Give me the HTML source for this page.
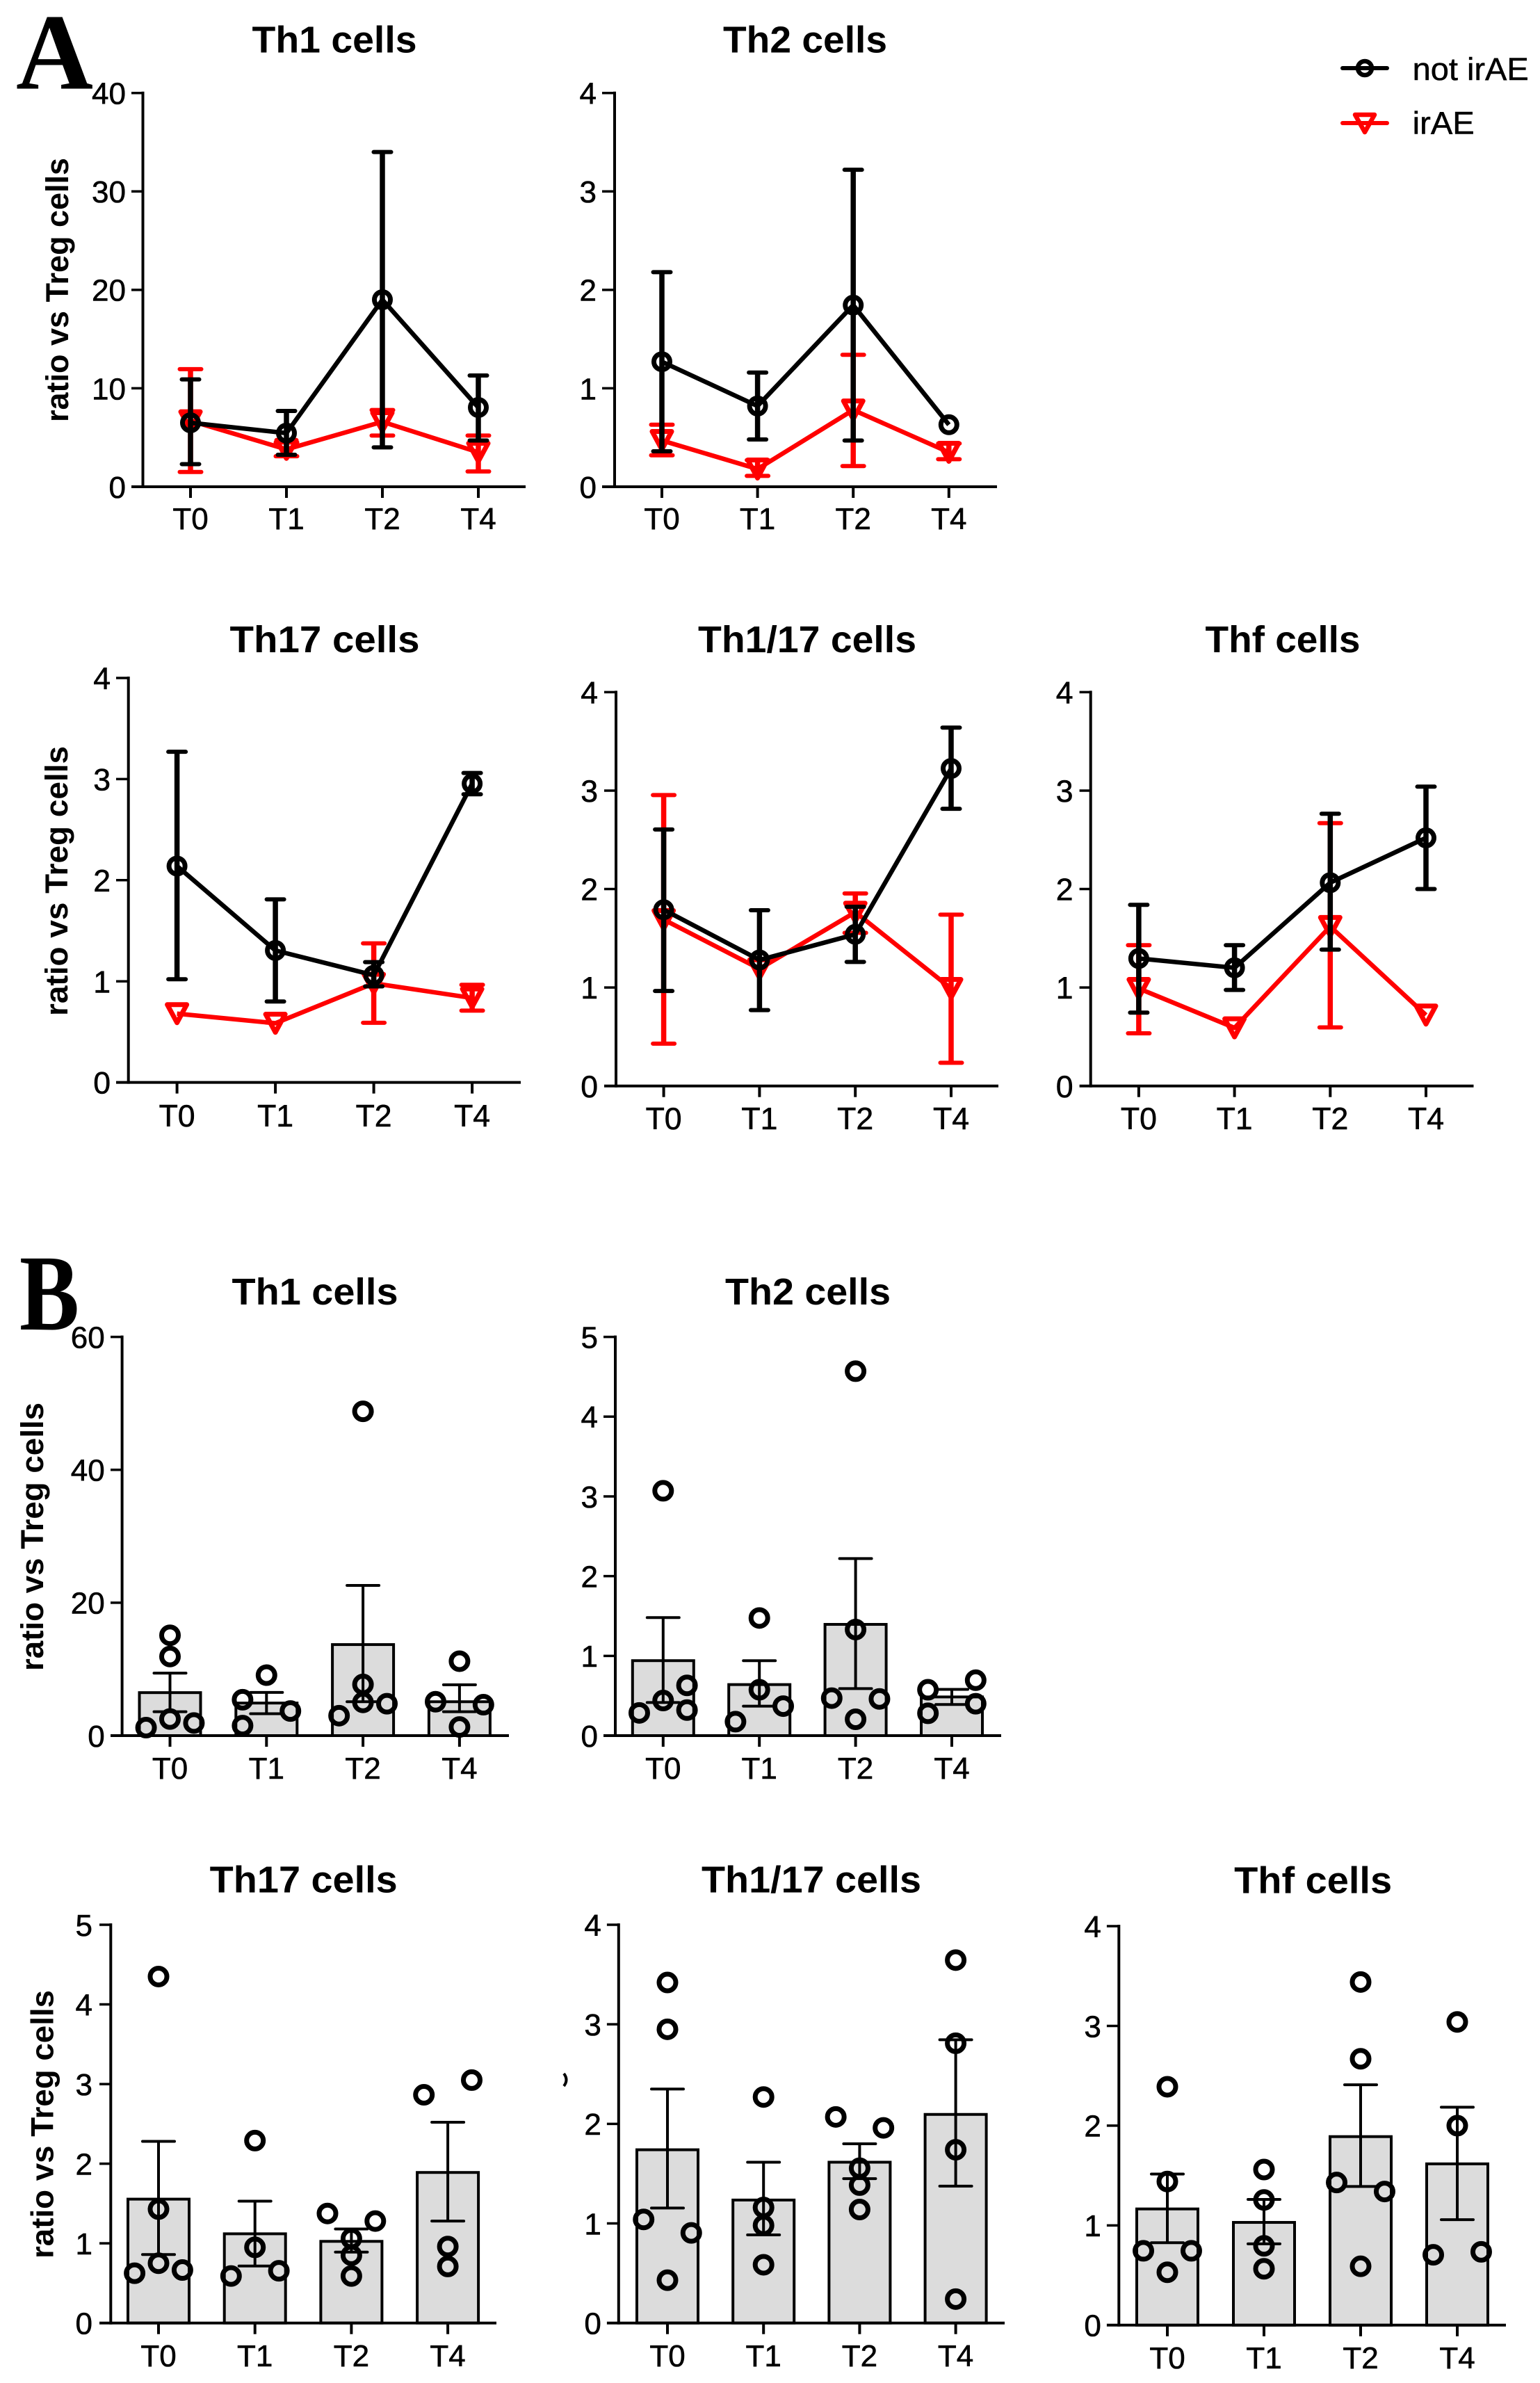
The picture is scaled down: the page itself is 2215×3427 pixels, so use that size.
<!DOCTYPE html>
<html lang="en">
<head>
<meta charset="utf-8">
<title>Ratio vs Treg cells</title>
<style>
  html, body { margin: 0; padding: 0; background: #fff; }
  svg { display: block; }
  text { font-family: "Liberation Sans", sans-serif; fill: #000; }
  .title { font-size: 54px; font-weight: bold; text-anchor: middle; }
  .ylab { font-size: 45px; font-weight: bold; text-anchor: middle; }
  .letter { font-family: "Liberation Serif", serif; font-weight: bold; font-size: 156px; }
  .legend-text { font-size: 45px; stroke: #000; stroke-width: 0.5px; }
  .tick-text { stroke: #000; stroke-width: 0.6px; }
</style>
</head>
<body>
<svg id="figure" xmlns="http://www.w3.org/2000/svg" width="2215" height="3427" viewBox="0 0 2215 3427">
  <rect x="0" y="0" width="2215" height="3427" fill="#fff"/>

  <text class="letter" x="23" y="127.5" textLength="111" lengthAdjust="spacingAndGlyphs">A</text>
  <text class="letter" x="28" y="1912" textLength="86" lengthAdjust="spacingAndGlyphs">B</text>

  <g id="a1">
    <text class="title" x="481" y="75.5" textLength="237" lengthAdjust="spacingAndGlyphs">Th1 cells</text>
    <text class="ylab" transform="translate(98,417) rotate(-90)" textLength="380" lengthAdjust="spacingAndGlyphs">ratio vs Treg cells</text>
  </g>
  <g id="a2">
    <text class="title" x="1158" y="75.5" textLength="236" lengthAdjust="spacingAndGlyphs">Th2 cells</text>
  </g>
  <g id="a3">
    <text class="title" x="467" y="938" textLength="273" lengthAdjust="spacingAndGlyphs">Th17 cells</text>
    <text class="ylab" transform="translate(97,1267) rotate(-90)" textLength="388" lengthAdjust="spacingAndGlyphs">ratio vs Treg cells</text>
  </g>
  <g id="a4">
    <text class="title" x="1161" y="938" textLength="314" lengthAdjust="spacingAndGlyphs">Th1/17 cells</text>
  </g>
  <g id="a5">
    <text class="title" x="1845" y="938" textLength="223" lengthAdjust="spacingAndGlyphs">Thf cells</text>
  </g>

  <g id="b1">
    <text class="title" x="453" y="1876" textLength="239" lengthAdjust="spacingAndGlyphs">Th1 cells</text>
    <text class="ylab" transform="translate(62,2210) rotate(-90)" textLength="386" lengthAdjust="spacingAndGlyphs">ratio vs Treg cells</text>
  </g>
  <g id="b2">
    <text class="title" x="1162" y="1876" textLength="238" lengthAdjust="spacingAndGlyphs">Th2 cells</text>
  </g>
  <g id="b3">
    <text class="title" x="436.7" y="2721.5" textLength="270" lengthAdjust="spacingAndGlyphs">Th17 cells</text>
    <text class="ylab" transform="translate(76.5,3055) rotate(-90)" textLength="386" lengthAdjust="spacingAndGlyphs">ratio vs Treg cells</text>
  </g>
  <g id="b4">
    <text class="title" x="1167" y="2721.5" textLength="316" lengthAdjust="spacingAndGlyphs">Th1/17 cells</text>
    <path d="M811 2982 Q818 2991 811 3000" fill="none" stroke="#000" stroke-width="4"/>
  </g>
  <g id="b5">
    <text class="title" x="1888.6" y="2722.5" textLength="227" lengthAdjust="spacingAndGlyphs">Thf cells</text>
  </g>

  <g>
    <g>
      <line x1="1931" y1="98" x2="1995" y2="98" stroke="#000" stroke-width="6" stroke-linecap="round"/>
      <circle cx="1963" cy="98" r="10" fill="none" stroke="#000" stroke-width="6.5"/>
      <text class="legend-text" x="2031.7" y="114.8" textLength="167" lengthAdjust="spacingAndGlyphs">not irAE</text>
    </g>
    <g>
      <line x1="1931" y1="177" x2="1995" y2="177" stroke="#f00" stroke-width="6" stroke-linecap="round"/>
      <polygon points="1949,165 1977,165 1963,190" fill="none" stroke="#f00" stroke-width="6.5" stroke-linejoin="round"/>
      <text class="legend-text" x="2031.7" y="192.3" textLength="89" lengthAdjust="spacingAndGlyphs">irAE</text>
    </g>
  </g>
</svg>

<script>
// ---------- shared categories ----------
const categories = ['T0', 'T1', 'T2', 'T4'];

// ---------- panel A: y tick labels ----------
const a1Ticks = [0, 10, 20, 30, 40];
const a2Ticks = [0, 1, 2, 3, 4];
const a3Ticks = [0, 1, 2, 3, 4];
const a4Ticks = [0, 1, 2, 3, 4];
const a5Ticks = [0, 1, 2, 3, 4];

// ---------- panel A: Th1 ----------
const a1NotMean = [6.5, 5.45, 19, 8.05];
const a1NotLow = [2.3, 3.25, 4.0, 4.7];
const a1NotHigh = [10.9, 7.7, 34, 11.3];
const a1IrMean = [6.7, 3.8, 6.6, 3.5];
const a1IrLow = [1.5, 3.1, 5.2, 1.55];
const a1IrHigh = [11.95, 4.5, 7.8, 5.2];

// ---------- panel A: Th2 ----------
const a2NotMean = [1.27, 0.82, 1.845, 0.63];
const a2NotLow = [0.36, 0.48, 0.47, 0.63];
const a2NotHigh = [2.18, 1.16, 3.22, 0.63];
const a2IrMean = [0.47, 0.18, 0.78, 0.35];
const a2IrLow = [0.32, 0.11, 0.21, 0.28];
const a2IrHigh = [0.63, 0.27, 1.34, 0.44];

// ---------- panel A: Th17 ----------
const a3NotMean = [2.14, 1.305, 1.06, 2.955];
const a3NotLow = [1.02, 0.80, 0.95, 2.85];
const a3NotHigh = [3.27, 1.81, 1.19, 3.06];
const a3IrMean = [0.68, 0.585, 0.98, 0.835];
const a3IrLow = [0.68, 0.585, 0.59, 0.71];
const a3IrHigh = [0.68, 0.585, 1.375, 0.965];

// ---------- panel A: Th1/17 ----------
const a4NotMean = [1.79, 1.28, 1.54, 3.225];
const a4NotLow = [0.965, 0.77, 1.26, 2.815];
const a4NotHigh = [2.605, 1.785, 1.82, 3.64];
const a4IrMean = [1.69, 1.19, 1.765, 0.99];
const a4IrLow = [0.43, 1.19, 1.555, 0.235];
const a4IrHigh = [2.955, 1.19, 1.955, 1.74];

// ---------- panel A: Thf ----------
const a5NotMean = [1.295, 1.2, 2.065, 2.52];
const a5NotLow = [0.745, 0.975, 1.385, 2.0];
const a5NotHigh = [1.84, 1.43, 2.765, 3.04];
const a5IrMean = [0.99, 0.59, 1.62, 0.72];
const a5IrLow = [0.535, 0.59, 0.595, 0.72];
const a5IrHigh = [1.43, 0.59, 2.67, 0.72];

// ---------- panel B: y tick labels ----------
const b1Ticks = [0, 20, 40, 60];
const b2Ticks = [0, 1, 2, 3, 4, 5];
const b3Ticks = [0, 1, 2, 3, 4, 5];
const b4Ticks = [0, 1, 2, 3, 4];
const b5Ticks = [0, 1, 2, 3, 4];

// ---------- panel B: Th1 ----------
const b1Bars = [6.47, 4.9, 13.7, 5.1];
const b1Low = [3.6, 3.3, 5.1, 3.6];
const b1High = [9.4, 6.5, 22.6, 7.65];
const b1Points = [[15.1, 11.9, 2.5, 1.2, 1.9], [9.1, 5.4, 1.5, 3.7], [48.8, 7.7, 5.0, 3.0, 4.8], [11.2, 5.1, 4.65, 1.3]];
const b1Slots = [[0, 0, 0, -1, 1], [0, -1, -1, 1], [0, 0, 0, -1, 1], [0, -1, 1, 0]];

// ---------- panel B: Th2 ----------
const b2Bars = [0.94, 0.64, 1.395, 0.485];
const b2Low = [0.415, 0.37, 0.59, 0.39];
const b2High = [1.48, 0.94, 2.22, 0.58];
const b2Points = [[3.07, 0.44, 0.285, 0.63, 0.32], [1.475, 0.575, 0.175, 0.37], [4.57, 1.33, 0.47, 0.46, 0.205], [0.575, 0.28, 0.695, 0.40]];
const b2Slots = [[0, 0, -1, 1, 1], [0, 0, -1, 1], [0, 0, -1, 1, 0], [-1, -1, 1, 1]];

// ---------- panel B: Th17 ----------
const b3Bars = [1.555, 1.12, 1.025, 1.89];
const b3Low = [0.86, 0.715, 0.89, 1.28];
const b3High = [2.28, 1.53, 1.18, 2.52];
const b3Points = [[4.35, 1.43, 0.75, 0.625, 0.665], [2.29, 0.95, 0.59, 0.655], [1.06, 0.85, 0.59, 1.375, 1.28], [2.865, 3.05, 0.96, 0.71]];
const b3Slots = [[0, 0, 0, -1, 1], [0, 0, -1, 1], [0, 0, 0, -1, 1], [-1, 1, 0, 0]];

// ---------- panel B: Th1/17 ----------
const b4Bars = [1.74, 1.235, 1.615, 2.095];
const b4Low = [1.155, 0.885, 1.45, 1.375];
const b4High = [2.35, 1.615, 1.80, 2.845];
const b4Points = [[3.42, 2.95, 0.43, 1.04, 0.905], [2.27, 1.16, 0.98, 0.585], [2.07, 1.96, 1.555, 1.385, 1.14], [3.645, 2.81, 1.74, 0.24]];
const b4Slots = [[0, 0, 0, -1, 1], [0, 0, 0, 0], [-1, 1, 0, 0, 0], [0, 0, 0, 0]];

// ---------- panel B: Thf ----------
const b5Bars = [1.165, 1.03, 1.89, 1.617];
const b5Low = [0.826, 0.815, 1.39, 1.057];
const b5High = [1.515, 1.26, 2.41, 2.185];
const b5Points = [[2.39, 1.44, 0.53, 0.745, 0.745], [1.56, 1.255, 0.795, 0.565], [3.44, 2.67, 0.59, 1.43, 1.34], [3.04, 2.0, 0.705, 0.735]];
const b5Slots = [[0, 0, 0, -1, 1], [0, 0, 0, 0], [0, 0, 0, -1, 1], [0, 0, -1, 1]];

// ---------- helpers ----------
const SVGNS = 'http://www.w3.org/2000/svg';
const RED = '#ff0000';
const BLACK = '#000000';

function shape(parent, tag, attrs) {
  const el = document.createElementNS(SVGNS, tag);
  Object.keys(attrs).forEach(function (k) { el.setAttribute(k, attrs[k]); });
  parent.appendChild(el);
  return el;
}

function makeScales(frame, ticks) {
  const yMax = ticks[ticks.length - 1];
  return {
    x: function (i) { return frame.first + i * frame.step; },
    y: function (v) { return frame.bottom - (v / yMax) * (frame.bottom - frame.top); }
  };
}

function drawAxes(g, frame, ticks, scales) {
  const yAxis = shape(g, 'line', { x1: frame.axisX, y1: frame.top - 2, x2: frame.axisX, y2: frame.bottom + 2, stroke: BLACK, 'stroke-width': 4 });
  
  
  const xAxis = shape(g, 'line', { x1: frame.left, y1: frame.bottom, x2: frame.right, y2: frame.bottom, stroke: BLACK, 'stroke-width': 4 });
  
  

  ticks.forEach(function (t) {
    const yy = scales.y(t);
    if (t !== 0) {
      const mark = shape(g, 'line', { x1: frame.left, y1: yy, x2: frame.axisX, y2: yy, stroke: BLACK, 'stroke-width': 3.5 });
      
      
    }
    const label = shape(g, 'text', { class: 'tick-text', x: frame.tickRight, y: yy + frame.font * 0.36, 'text-anchor': 'end', 'font-size': frame.font });
    label.textContent = String(t);
    
    
  });

  categories.forEach(function (c, i) {
    const xx = scales.x(i);
    const mark = shape(g, 'line', { x1: xx, y1: frame.bottom, x2: xx, y2: frame.bottom + 16, stroke: BLACK, 'stroke-width': 4 });
    
    
    const label = shape(g, 'text', { class: 'tick-text', x: xx, y: frame.labelY, 'text-anchor': 'middle', 'font-size': frame.font });
    label.textContent = c;
    
    
  });
}

function drawSeries(g, scales, name, color, capHalf, means, lows, highs, marker) {
  means.forEach(function (m, i) {
    if (lows[i] === highs[i]) { return; }
    const xx = scales.x(i);
    const yLow = scales.y(lows[i]);
    const yHigh = scales.y(highs[i]);
    const stem = shape(g, 'line', { x1: xx, y1: yLow, x2: xx, y2: yHigh, stroke: color, 'stroke-width': 7.5 });
    
    
    const capA = shape(g, 'line', { x1: xx - capHalf, y1: yLow, x2: xx + capHalf, y2: yLow, stroke: color, 'stroke-width': 6, 'stroke-linecap': 'round' });
    
    
    const capB = shape(g, 'line', { x1: xx - capHalf, y1: yHigh, x2: xx + capHalf, y2: yHigh, stroke: color, 'stroke-width': 6, 'stroke-linecap': 'round' });
    
    
  });

  const coords = means.map(function (m, i) { return scales.x(i) + ',' + scales.y(m); }).join(' ');
  const line = shape(g, 'polyline', { points: coords, fill: 'none', stroke: color, 'stroke-width': 6.5, 'stroke-linejoin': 'round' });
  
  

  means.forEach(function (m, i) {
    const xx = scales.x(i);
    const yy = scales.y(m);
    let mark;
    if (marker === 'circle') {
      mark = shape(g, 'circle', { cx: xx, cy: yy, r: 11.5, fill: 'none', stroke: color, 'stroke-width': 7 });
    } else {
      mark = shape(g, 'polygon', {
        points: (xx - 14) + ',' + (yy - 13) + ' ' + (xx + 14) + ',' + (yy - 13) + ' ' + xx + ',' + (yy + 13),
        fill: 'none', stroke: color, 'stroke-width': 7, 'stroke-linejoin': 'round'
      });
    }
    
    
  });
}

function drawLinePanel(id, frame, ticks, notMean, notLow, notHigh, irMean, irLow, irHigh) {
  const g = document.getElementById(id);
  const scales = makeScales(frame, ticks);
  drawSeries(g, scales, 'irae', RED, 15.5, irMean, irLow, irHigh, 'triangle');
  drawSeries(g, scales, 'not-irae', BLACK, 12.5, notMean, notLow, notHigh, 'circle');
  drawAxes(g, frame, ticks, scales);
}

function drawBarPanel(id, frame, ticks, bars, lows, highs, points, slots) {
  const g = document.getElementById(id);
  const scales = makeScales(frame, ticks);
  bars.forEach(function (b, i) {
    const xx = scales.x(i);
    const yy = scales.y(b);
    const bar = shape(g, 'rect', { x: xx - 44, y: yy, width: 88, height: frame.bottom - yy, fill: '#dcdcdc', stroke: BLACK, 'stroke-width': 4 });
    
    
  });
  drawAxes(g, frame, ticks, scales);
  bars.forEach(function (b, i) {
    const xx = scales.x(i);
    const yLow = scales.y(lows[i]);
    const yHigh = scales.y(highs[i]);
    const stem = shape(g, 'line', { x1: xx, y1: yLow, x2: xx, y2: yHigh, stroke: BLACK, 'stroke-width': 4 });
    
    
    const capA = shape(g, 'line', { x1: xx - 23, y1: yLow, x2: xx + 23, y2: yLow, stroke: BLACK, 'stroke-width': 4, 'stroke-linecap': 'round' });
    
    
    const capB = shape(g, 'line', { x1: xx - 23, y1: yHigh, x2: xx + 23, y2: yHigh, stroke: BLACK, 'stroke-width': 4, 'stroke-linecap': 'round' });
    
    
    points[i].forEach(function (p, j) {
      const dot = shape(g, 'circle', { cx: xx + slots[i][j] * 0.248 * frame.step, cy: scales.y(p), r: 12, fill: 'none', stroke: BLACK, 'stroke-width': 7 });
      
      
    });
  });
}

// ---------- axis frames (layout only) ----------
const frameA1 = { axisX: 205.5, top: 133.7, bottom: 700, first: 274, step: 138, left: 189, right: 756, tickRight: 181, labelY: 761, font: 44 };
const frameA2 = { axisX: 884, top: 133.7, bottom: 700, first: 952, step: 137.6, left: 866, right: 1434, tickRight: 858, labelY: 761, font: 44 };
const frameA3 = { axisX: 184.7, top: 975, bottom: 1556.6, first: 254.6, step: 141.5, left: 167, right: 749, tickRight: 159, labelY: 1620, font: 44.6 };
const frameA4 = { axisX: 886, top: 995.4, bottom: 1561.7, first: 954.6, step: 137.8, left: 869, right: 1436, tickRight: 860, labelY: 1624, font: 44.6 };
const frameA5 = { axisX: 1568.7, top: 995.4, bottom: 1561.7, first: 1637.9, step: 137.7, left: 1552.6, right: 2119.5, tickRight: 1543.6, labelY: 1624, font: 44.6 };
const frameB1 = { axisX: 175.6, top: 1922.6, bottom: 2496, first: 244.5, step: 138.8, left: 159, right: 732, tickRight: 150.7, labelY: 2558, font: 44 };
const frameB2 = { axisX: 885, top: 1922.6, bottom: 2496, first: 953.8, step: 138.4, left: 868, right: 1440, tickRight: 860, labelY: 2558, font: 44 };
const frameB3 = { axisX: 159.3, top: 2768, bottom: 3340.7, first: 228, step: 138.7, left: 143, right: 714, tickRight: 133, labelY: 3403, font: 44 };
const frameB4 = { axisX: 889.8, top: 2768, bottom: 3340.7, first: 960, step: 138.2, left: 872.9, right: 1445, tickRight: 864.8, labelY: 3403, font: 44 };
const frameB5 = { axisX: 1609.3, top: 2770, bottom: 3343.8, first: 1679, step: 139, left: 1591.9, right: 2166, tickRight: 1583.8, labelY: 3406, font: 44 };

// ---------- draw ----------
drawLinePanel('a1', frameA1, a1Ticks, a1NotMean, a1NotLow, a1NotHigh, a1IrMean, a1IrLow, a1IrHigh);
drawLinePanel('a2', frameA2, a2Ticks, a2NotMean, a2NotLow, a2NotHigh, a2IrMean, a2IrLow, a2IrHigh);
drawLinePanel('a3', frameA3, a3Ticks, a3NotMean, a3NotLow, a3NotHigh, a3IrMean, a3IrLow, a3IrHigh);
drawLinePanel('a4', frameA4, a4Ticks, a4NotMean, a4NotLow, a4NotHigh, a4IrMean, a4IrLow, a4IrHigh);
drawLinePanel('a5', frameA5, a5Ticks, a5NotMean, a5NotLow, a5NotHigh, a5IrMean, a5IrLow, a5IrHigh);

drawBarPanel('b1', frameB1, b1Ticks, b1Bars, b1Low, b1High, b1Points, b1Slots);
drawBarPanel('b2', frameB2, b2Ticks, b2Bars, b2Low, b2High, b2Points, b2Slots);
drawBarPanel('b3', frameB3, b3Ticks, b3Bars, b3Low, b3High, b3Points, b3Slots);
drawBarPanel('b4', frameB4, b4Ticks, b4Bars, b4Low, b4High, b4Points, b4Slots);
drawBarPanel('b5', frameB5, b5Ticks, b5Bars, b5Low, b5High, b5Points, b5Slots);
</script>
</body>
</html>
